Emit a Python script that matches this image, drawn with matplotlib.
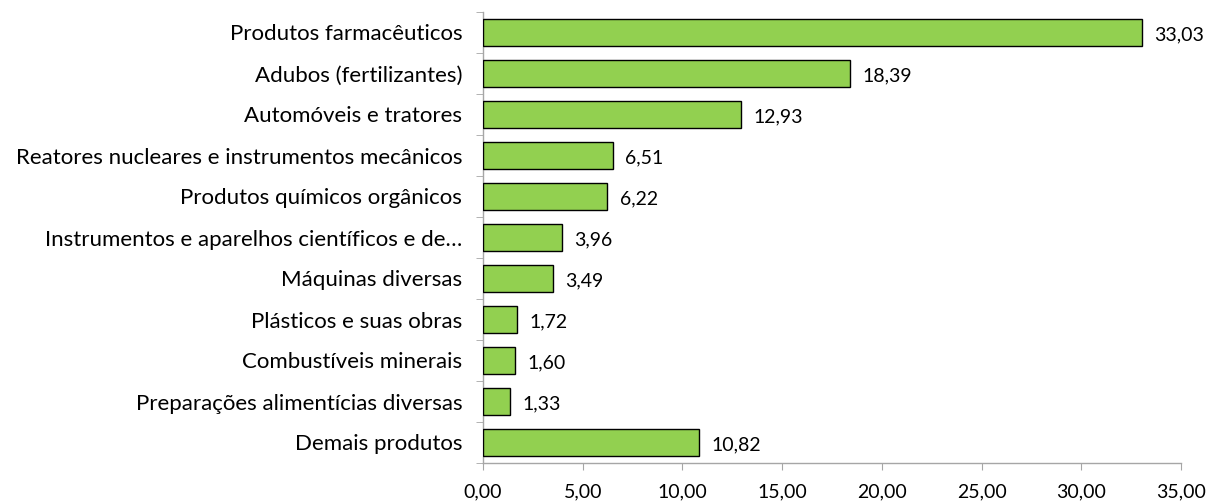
import matplotlib
matplotlib.use("Agg")
import matplotlib.pyplot as plt
from matplotlib.ticker import FixedLocator

categories = [
    "Produtos farmacêuticos",
    "Adubos (fertilizantes)",
    "Automóveis e tratores",
    "Reatores nucleares e instrumentos mecânicos",
    "Produtos químicos orgânicos",
    "Instrumentos e aparelhos científicos e de…",
    "Máquinas diversas",
    "Plásticos e suas obras",
    "Combustíveis minerais",
    "Preparações alimentícias diversas",
    "Demais produtos",
]
values = [33.03, 18.39, 12.93, 6.51, 6.22, 3.96, 3.49, 1.72, 1.60, 1.33, 10.82]
xticks = [0, 5, 10, 15, 20, 25, 30, 35]

plt.rcParams['font.family'] = ['Lato', 'DejaVu Sans']

fig = plt.figure(figsize=(12.16, 5.04), dpi=100)
ax = fig.add_axes([483/1216, 1 - 463/504, (1181 - 483)/1216, (463 - 12)/504])

n = len(categories)
ypos = list(range(n))
ax.barh(ypos, values, height=0.66, color="#92D050", edgecolor="black", linewidth=1.0, zorder=3)

def fmt(v):
    return f"{v:.2f}".replace(".", ",")

for y, v in zip(ypos, values):
    ax.annotate(fmt(v), xy=(v, y), xytext=(9, -2), textcoords="offset points",
                ha="left", va="center", fontsize=14, color="black")

ax.set_ylim(n - 0.5, -0.5)
ax.set_xlim(0, 35)
ax.set_yticks(ypos)
ax.set_yticklabels(categories, fontsize=16)
ax.yaxis.set_minor_locator(FixedLocator([i - 0.5 for i in range(n + 1)]))
ax.tick_params(axis="y", which="major", length=0, pad=15)
ax.tick_params(axis="y", which="minor", length=5, color="#A6A6A6", direction="out")

ax.set_xticks(xticks)
ax.set_xticklabels([fmt(t) for t in xticks], fontsize=14)
ax.tick_params(axis="x", length=5, color="#A6A6A6", direction="out", pad=10)

for s in ["top", "right"]:
    ax.spines[s].set_visible(False)
for s in ["left", "bottom"]:
    ax.spines[s].set_color("#A6A6A6")
    ax.spines[s].set_linewidth(1.0)

fig.savefig("out.png", dpi=100)
